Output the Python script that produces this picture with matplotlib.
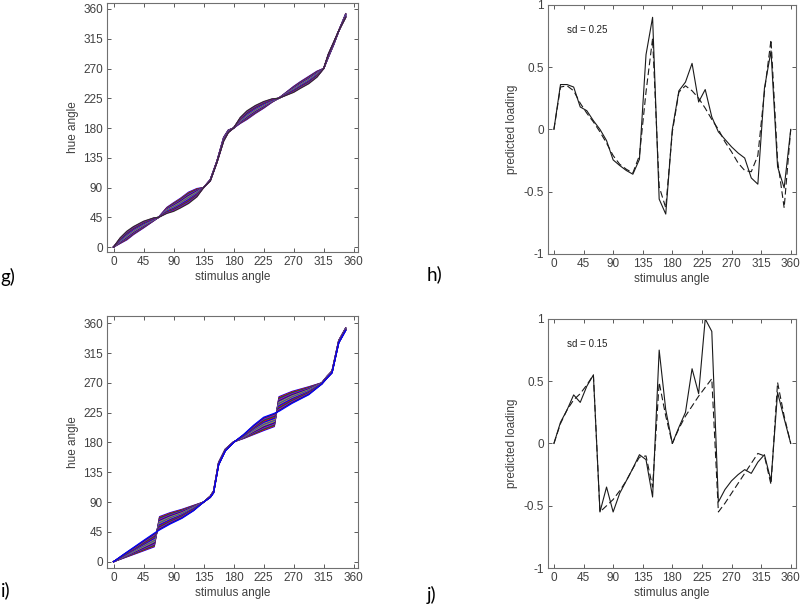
import numpy as np
import matplotlib
matplotlib.use('Agg')
import matplotlib.pyplot as plt

plt.rcParams['font.family'] = ['Liberation Sans', 'DejaVu Sans']
plt.rcParams['axes.unicode_minus'] = False

# panel g: hue angle vs stimulus angle, band of curves (edges a and b)
stim_g = [0, 10, 20, 30, 45, 60, 67.5, 80, 90, 100, 112.5, 125, 135, 145, 155, 165, 172, 180,
          190, 200, 212.5, 225, 237.5, 247.5, 260, 270, 280, 292.5, 305, 315, 322, 330, 338, 348]
g_edge_a = [0, 5.5, 11, 19, 29, 39.5, 45, 60, 67, 73.5, 83, 88.5, 90, 102, 130, 166, 177, 180,
            187, 193, 202, 210, 219, 225, 235, 243, 250, 258, 266, 270, 287, 306, 328, 353]
g_edge_b = [0, 14, 24, 31, 39, 44, 45, 51, 54, 59, 66, 76, 90, 100, 128, 160, 173, 180,
            196, 206, 214, 220, 224, 225, 230, 234, 240, 247, 257, 270, 292, 310, 328, 347]

# panel i
stim_i = [0, 15, 30, 45, 61, 69, 85, 102.5, 120, 135, 145, 150, 157.5, 167.5, 180,
          195, 210, 225, 241, 248, 267.5, 292.5, 312, 320, 327.5, 337.5, 348]
i_edge_a = [0, 5.5, 11, 16.5, 22.5, 68, 74, 79, 85, 90, 99, 107, 150, 170, 181,
            186, 192, 198, 204, 249, 257, 264, 270, 280, 288, 334, 353]
i_edge_b = [0, 11, 21.5, 32, 43, 48, 57, 65.5, 77, 90, 97, 104, 146, 167, 180,
            192, 206, 218, 224, 227, 239, 252, 268, 277, 285, 330, 349]

# panels h and j: predicted loading
stim_step = np.arange(0, 370, 10)
h_solid = [0, 0.36, 0.36, 0.34, 0.18, 0.15, 0.07, 0.0, -0.09, -0.245, -0.29, -0.33, -0.36, -0.24,
           0.6, 0.9, -0.56, -0.68, 0.0, 0.31, 0.38, 0.53, 0.22, 0.32, 0.1, -0.02, -0.08, -0.14,
           -0.19, -0.23, -0.39, -0.44, 0.33, 0.63, -0.3, -0.47, 0.0]
h_dash = [0, 0.34, 0.35, 0.31, 0.21, 0.13, 0.06, -0.02, -0.11, -0.21, -0.28, -0.32, -0.35, -0.21,
          0.3, 0.73, -0.46, -0.63, -0.02, 0.3, 0.35, 0.31, 0.25, 0.17, 0.08, 0.0, -0.1, -0.18,
          -0.27, -0.33, -0.34, -0.21, 0.3, 0.72, -0.25, -0.63, 0.0]
j_solid = [0, 0.17, 0.27, 0.39, 0.33, 0.46, 0.55, -0.55, -0.35, -0.55, -0.4, -0.3, -0.2, -0.09,
           -0.13, -0.43, 0.75, 0.27, 0.0, 0.13, 0.25, 0.6, 0.4, 1.0, 0.9, -0.47, -0.37, -0.3,
           -0.25, -0.21, -0.24, -0.15, -0.09, -0.3, 0.41, 0.2, 0.0]
j_dash = [0, 0.16, 0.27, 0.35, 0.4, 0.47, 0.55, -0.55, -0.5, -0.45, -0.38, -0.3, -0.2, -0.11,
          -0.1, -0.35, 0.49, 0.22, 0.0, 0.12, 0.22, 0.3, 0.38, 0.45, 0.52, -0.55, -0.48, -0.4,
          -0.32, -0.24, -0.16, -0.08, -0.1, -0.33, 0.49, 0.22, 0.0]

angle_ticks = [0, 45, 90, 135, 180, 225, 270, 315, 360]
load_ticks = [-1, -0.5, 0, 0.5, 1]
load_labels = ['-1', '-0.5', '0', '0.5', '1']

line_colors = ['#0000ff', '#ff0000', '#008000', '#2020c0', '#bf00bf', '#303030',
               '#0000ff', '#ff8000', '#00a0a0', '#6000c0', '#c0c000', '#0000ff']

TXT = '#404040'


def style(ax):
    for s in ax.spines.values():
        s.set_color('#707070')
        s.set_linewidth(0.8)
    ax.tick_params(direction='in', top=True, right=True, length=3, width=0.6,
                   color='#404040', labelsize=8.5, labelcolor=TXT, pad=3)
    ax.set_xticks(angle_ticks)
    ax.set_xticklabels([str(t) for t in angle_ticks])
    ax.set_xlabel('stimulus angle', fontsize=8.5, color=TXT, labelpad=2)


def band(ax, x, ea, eb, n):
    ea = np.array(ea, float)
    eb = np.array(eb, float)
    for k, t in enumerate(np.linspace(0, 1, n)):
        ax.plot(x, ea + t * (eb - ea), color=line_colors[k % len(line_colors)], lw=0.9)


def angle_panel(rect, x, ea, eb, n, ylim):
    ax = fig.add_axes(rect)
    band(ax, x, ea, eb, n)
    ax.set_xlim(-9.5, 367)
    ax.set_ylim(*ylim)
    ax.set_yticks(angle_ticks)
    ax.set_yticklabels([str(t) for t in angle_ticks])
    ax.set_ylabel('hue angle', fontsize=8.5, color=TXT, labelpad=3)
    style(ax)
    return ax


def loading_panel(rect, solid, dash, sd_text):
    ax = fig.add_axes(rect)
    ax.plot(stim_step, solid, color='#1a1a1a', lw=0.8)
    ax.plot(stim_step, dash, color='#1a1a1a', lw=0.8, ls=(0, (6, 3)))
    ax.set_xlim(-9, 368)
    ax.set_ylim(-1, 1)
    ax.set_yticks(load_ticks)
    ax.set_yticklabels(load_labels)
    ax.set_ylabel('predicted loading', fontsize=8.5, color=TXT, labelpad=4)
    ax.text(20, 0.795, sd_text, fontsize=7, color='#202020', va='center', ha='left')
    style(ax)
    return ax


fig = plt.figure(figsize=(8, 6.06), dpi=100)

angle_panel([0.134, 0.584, 0.314, 0.411], stim_g, g_edge_a, g_edge_b, 18, (-7.6, 369))
loading_panel([0.685, 0.581, 0.31, 0.411], h_solid, h_dash, 'sd = 0.25')
angle_panel([0.134, 0.0627, 0.314, 0.416], stim_i, i_edge_a, i_edge_b, 19, (-9.5, 371))
loading_panel([0.685, 0.0627, 0.31, 0.411], j_solid, j_dash, 'sd = 0.15')

lab = dict(fontsize=13.5, family=['Lato', 'DejaVu Sans'], color='black', va='center', ha='left')
fig.text(0.001, 1 - 277 / 606, 'g)', **lab)
fig.text(427 / 800, 1 - 274 / 606, 'h)', **lab)
fig.text(0.001, 1 - 590 / 606, 'i)', **lab)
fig.text(427 / 800, 1 - 595 / 606, 'j)', **lab)

fig.savefig('out.png', dpi=100, facecolor='white')
